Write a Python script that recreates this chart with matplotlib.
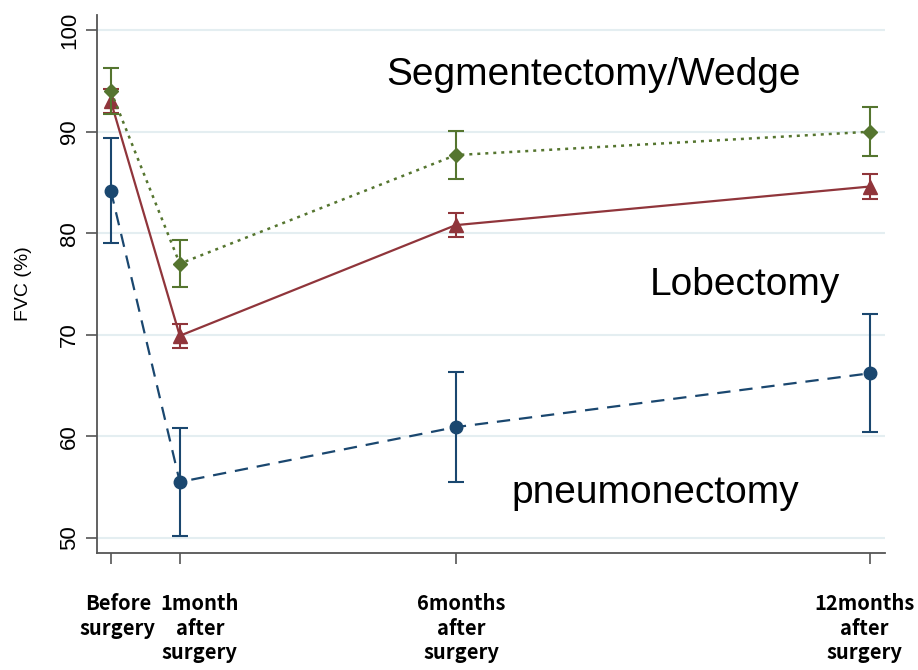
import matplotlib

matplotlib.use("Agg")
import matplotlib.pyplot as plt
from matplotlib.transforms import ScaledTranslation, blended_transform_factory

# time points (plotted on Stata-style spacing) and labels
x_pos = [0, 1, 5, 11]
x_labels = ["Before\nsurgery", "1month\nafter\nsurgery", "6months\nafter\nsurgery", "12months\nafter\nsurgery"]

# FVC (%) means and error half-widths
pneumo_mean = [84.2, 55.5, 60.9, 66.2]
pneumo_err = [5.2, 5.3, 5.4, 5.8]
lobe_mean = [93.0, 69.9, 80.8, 84.6]
lobe_err = [1.2, 1.2, 1.2, 1.2]
segwedge_mean = [94.0, 77.0, 87.7, 90.0]
segwedge_err = [2.3, 2.3, 2.4, 2.4]

NAVY = "#1a476f"
MAROON = "#90353b"
GREEN = "#55752f"

plt.rcParams["font.family"] = ["Liberation Sans", "DejaVu Sans"]

fig = plt.figure(figsize=(9.18, 6.70), dpi=100)
ax = fig.add_axes([0.1057, 0.1746, 0.858, 0.803])

ax.errorbar(x_pos, pneumo_mean, yerr=pneumo_err, color=NAVY, ls=(0, (6, 4)), lw=1.6,
            marker="o", ms=9, capsize=6, elinewidth=1.5, capthick=1.5, zorder=3)
ax.errorbar(x_pos, lobe_mean, yerr=lobe_err, color=MAROON, ls="-", lw=1.6,
            marker="^", ms=10, capsize=6, elinewidth=1.5, capthick=1.5, zorder=4)
ax.errorbar(x_pos, segwedge_mean, yerr=segwedge_err, color=GREEN, ls=(0, (1.2, 2)), lw=1.8,
            marker="D", ms=7, capsize=6, elinewidth=1.5, capthick=1.5, zorder=5)

ax.text(7.0, 95.6, "Segmentectomy/Wedge", fontsize=28, ha="center", va="center")
ax.text(9.2, 74.9, "Lobectomy", fontsize=28, ha="center", va="center")
ax.text(7.9, 54.4, "pneumonectomy", fontsize=28, ha="center", va="center")

ax.set_xlim(-0.2, 11.22)
ax.set_ylim(48.5, 101.5)
ax.set_yticks([50, 60, 70, 80, 90, 100])
ax.set_yticklabels(["50", "60", "70", "80", "90", "100"], rotation=90, va="center", fontsize=16)
ax.set_xticks(x_pos)
ax.tick_params(axis="x", length=8, width=1.2, color="#555555", labelbottom=False)
ax.tick_params(axis="y", length=8, width=1.2, color="#555555", pad=4)

# x labels drawn by hand: the original ones sit a little off their ticks
label_tf = blended_transform_factory(ax.transData, ax.transAxes)
for xp, lab, dx in zip(x_pos, x_labels, [7, 20, 6, -5]):
    ax.text(xp, -0.075, lab, ha="center", va="top", multialignment="center",
            fontsize=14.5, fontweight="bold", family=["Noto Sans CJK KR", "DejaVu Sans"],
            linespacing=1.2, clip_on=False,
            transform=label_tf + ScaledTranslation(dx / 100, 0, fig.dpi_scale_trans))

ax.set_ylabel("FVC (%)", fontsize=14)
ax.yaxis.set_label_coords(-0.083, 0.5)

ax.grid(axis="y", color="#e4eef1", lw=1.5)
ax.set_axisbelow(True)
for side in ["top", "right"]:
    ax.spines[side].set_visible(False)
for side in ["left", "bottom"]:
    ax.spines[side].set_color("#555555")
    ax.spines[side].set_linewidth(1.3)

fig.savefig("out.png", dpi=100)
